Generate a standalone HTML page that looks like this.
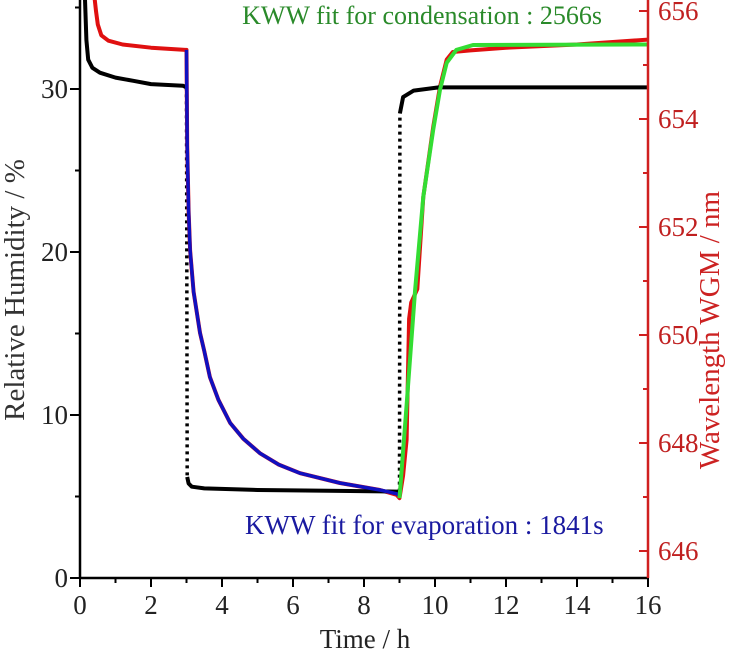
<!DOCTYPE html>
<html><head><meta charset="utf-8"><style>
body{margin:0;background:#fff;width:754px;height:649px;overflow:hidden}
svg text{font-family:"Liberation Serif",serif}
</style></head><body>
<svg id="chart" width="754" height="649" viewBox="0 0 754 649" xmlns="http://www.w3.org/2000/svg">
<g id="marks"></g>
<g id="axes"></g>
<text x="602" y="24" font-size="26" fill="#2a8a2a" text-anchor="end">KWW fit for condensation : 2566s</text>
<text x="245" y="534" font-size="27" fill="#1a1aa0">KWW fit for evaporation : 1841s</text>
<text x="365" y="648" font-size="27" text-anchor="middle" fill="#222">Time / h</text>
<text transform="translate(24,290) rotate(-90)" font-size="29" fill="#333" text-anchor="middle">Relative Humidity / %</text>
<text transform="translate(719,330) rotate(-90)" font-size="29" fill="#cc2222" text-anchor="middle">Wavelength WGM / nm</text>
</svg>
<script>
const rhTime=[0.14,0.18,0.23,0.35,0.56,1.0,1.5,2.0,2.9,3.0,3.02,3.06,3.15,3.5,5,7,8.95,9.0,9.01,9.1,9.4,10.1,12,16];
const rhValues=[35.5,33,31.8,31.3,31.0,30.7,30.5,30.3,30.2,30.1,6.2,5.8,5.6,5.5,5.4,5.35,5.3,5.3,28.5,29.5,29.9,30.1,30.1,30.1];
const wlTime=[0.4,0.45,0.5,0.6,0.8,1.2,2,2.96,3.0,3.02,3.06,3.1,3.2,3.38,3.5,3.66,3.9,4.23,4.6,5.07,5.6,6.2,7.32,8.45,8.92,9.0,9.1,9.2,9.27,9.33,9.5,9.67,9.95,10.14,10.33,10.5,11,12,14,16];
const wlValues=[656.3,656.0,655.75,655.55,655.45,655.38,655.32,655.28,655.28,653.5,652.3,651.57,650.8,650.04,649.7,649.22,648.8,648.37,648.08,647.81,647.6,647.44,647.26,647.13,647.04,646.98,647.4,648.06,650.3,650.6,650.85,652.56,653.85,654.6,655.1,655.24,655.27,655.32,655.38,655.47];
const evapTime=[3.0,3.02,3.06,3.1,3.2,3.38,3.5,3.66,3.9,4.23,4.6,5.07,5.6,6.2,7.32,8.45,8.92,9.0];
const evapValues=[655.28,653.5,652.3,651.57,650.8,650.04,649.7,649.22,648.8,648.37,648.08,647.81,647.6,647.44,647.26,647.13,647.06,647.03];
const condTime=[9.0,9.2,9.44,9.67,9.95,10.14,10.33,10.6,11.07,16];
const condValues=[646.98,648.7,650.83,652.56,653.8,654.54,655.04,655.28,655.37,655.38];
const xTicks=[0,2,4,6,8,10,12,14,16];
const rhTicks=[0,10,20,30];
const wlTicks=[646,648,650,652,654,656];

const X0=80,X1=648,YB=578;
const x=t=>X0+(t/16)*(X1-X0);
const yL=v=>YB-v*16.3;
const yR=w=>551-(w-646)*54;
const NS='http://www.w3.org/2000/svg';
const marks=document.getElementById('marks'),axes=document.getElementById('axes');
function mk(tag,a,p){const e=document.createElementNS(NS,tag);for(const k in a)e.setAttribute(k,a[k]);p.appendChild(e);return e;}
function path(ts,vs,f){return ts.map((t,i)=>(i?'L':'M')+x(t).toFixed(1)+' '+f(vs[i]).toFixed(1)).join(' ');}
const clip=mk('clipPath',{id:'pc'},marks);mk('rect',{x:X0,y:0,width:X1-X0,height:YB},clip);
const g=mk('g',{'clip-path':'url(#pc)'},marks);
let solid='',dotted='';
rhTime.forEach((t,i)=>{
  const px=x(t).toFixed(1),py=yL(rhValues[i]).toFixed(1);
  if(i===0){solid+='M'+px+' '+py;return;}
  const jump=Math.abs(rhValues[i]-rhValues[i-1])>5;
  const ppx=x(rhTime[i-1]).toFixed(1),ppy=yL(rhValues[i-1]).toFixed(1);
  if(jump){dotted+='M'+ppx+' '+ppy+'L'+px+' '+py;solid+='M'+px+' '+py;}
  else solid+='L'+px+' '+py;
});
let rhd=mk('path',{d:dotted,fill:'none',stroke:'#000','stroke-width':3.5,'stroke-dasharray':'3 4'},g);


let red=mk('path',{d:path(wlTime,wlValues,yR),fill:'none',stroke:'#e01010','stroke-width':4,'stroke-linejoin':'round'},g);


let rh=mk('path',{d:solid,fill:'none',stroke:'#000','stroke-width':4,'stroke-linejoin':'round'},g);


let blue=mk('path',{d:path(evapTime,evapValues,yR),fill:'none',stroke:'#1010c0','stroke-width':3.5,'stroke-linejoin':'round'},g);


let green=mk('path',{d:path(condTime,condValues,yR),fill:'none',stroke:'#33dd33','stroke-width':4,'stroke-linejoin':'round'},g);


let ax=mk('line',{x1:X0,y1:0,x2:X0,y2:YB,stroke:'#000','stroke-width':2.5},axes);

let bx=mk('line',{x1:X0,y1:YB,x2:X1,y2:YB,stroke:'#000','stroke-width':2.5},axes);

let rx=mk('line',{x1:X1,y1:0,x2:X1,y2:YB,stroke:'#d02020','stroke-width':2.5},axes);

for(let t=0;t<=16;t++){mk('line',{x1:x(t),y1:YB,x2:x(t),y2:YB+(t%2?5:9),stroke:'#000','stroke-width':2},axes);}
xTicks.forEach(t=>{const e=mk('text',{x:x(t),y:614,'font-size':27,'text-anchor':'middle',fill:'#222'},axes);e.textContent=t;
});
for(let v=0;v<=35;v+=5){mk('line',{x1:X0,y1:yL(v),x2:X0-(v%10?5:10),y2:yL(v),stroke:'#000','stroke-width':2},axes);}
rhTicks.forEach(v=>{const e=mk('text',{x:X0-12,y:yL(v)+9,'font-size':27,'text-anchor':'end',fill:'#222'},axes);e.textContent=v;
});
for(let w=646;w<=656;w++){mk('line',{x1:X1,y1:yR(w),x2:X1-(w%2?5:9),y2:yR(w),stroke:'#d02020','stroke-width':2},axes);}
wlTicks.forEach(w=>{const e=mk('text',{x:X1+10,y:yR(w)+9,'font-size':27,fill:'#c02020'},axes);e.textContent=w;
});
</script>
</body></html>
